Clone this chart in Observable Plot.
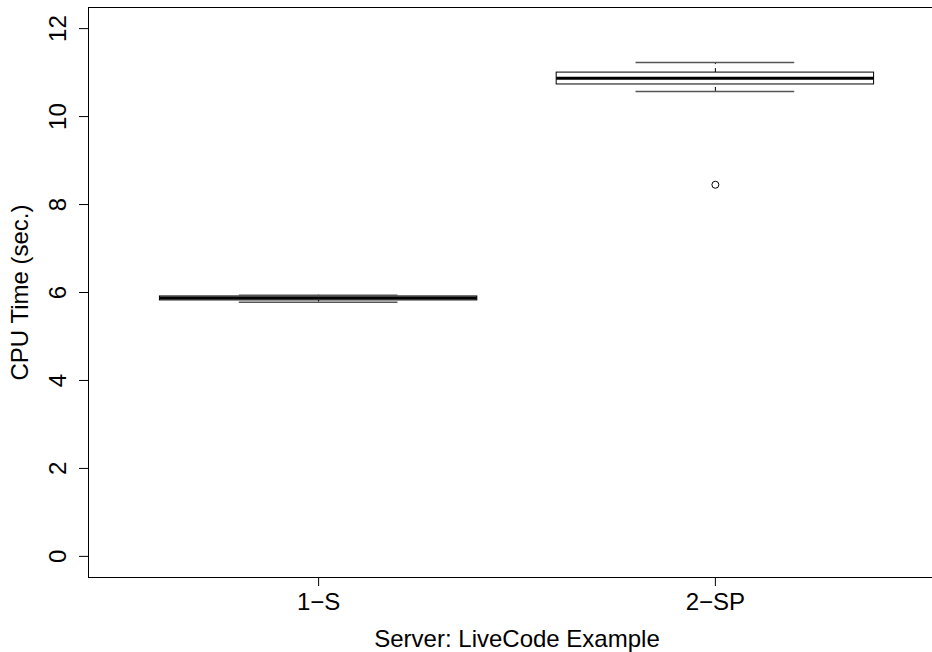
<!DOCTYPE html>
<html>
<head>
<meta charset="utf-8">
<script src="https://cdn.jsdelivr.net/npm/d3@7"></script>
<script src="https://cdn.jsdelivr.net/npm/@observablehq/plot@0.6"></script>
<style>
  html, body { margin: 0; padding: 0; background: white; overflow: hidden; }
</style>
</head>
<body>
<div id="chart"></div>
<script>
// Box-plot summary statistics
const categories   = ["1−S", "2−SP"];
const lowerWhisker = [5.78, 10.57];
const q1           = [5.82, 10.73];
const median       = [5.875, 10.87];
const q3           = [5.91, 11.00];
const upperWhisker = [5.94, 11.23];
const outlierGroup = ["2−SP"];
const outlierValue = [8.45];
const yTicks = [0, 2, 4, 6, 8, 10, 12];
const xTitle = "Server: LiveCode Example";
const yTitle = "CPU Time (sec.)";

const rows = categories.map((c, i) => ({
  cat: c, pos: i + 1,
  lo: lowerWhisker[i], q1: q1[i], med: median[i], q3: q3[i], hi: upperWhisker[i]
}));
const outliers = outlierGroup.map((c, i) => ({
  pos: categories.indexOf(c) + 1, value: outlierValue[i]
}));

const boxHalf = 0.4, capHalf = 0.2;
const font = "'Liberation Sans', Arial, Helvetica, sans-serif";
const fs = 24;

const chart = Plot.plot({
  width: 932,
  height: 652,
  marginLeft: 88,
  marginRight: -13,
  marginTop: 7,
  marginBottom: 75,
  style: { fontFamily: font, fontSize: fs + "px", color: "black", background: "white" },
  x: { type: "linear", domain: [0.42, 2.58] },
  y: { domain: [-0.48, 12.48] },
  marks: [
    // box bodies
    Plot.rect(rows, {
      x1: d => d.pos - boxHalf, x2: d => d.pos + boxHalf,
      y1: "q1", y2: "q3", fill: "white", stroke: "black", strokeWidth: 1
    }),
    // whiskers (dashed, as in R)
    Plot.ruleX(rows, { x: "pos", y1: "q3", y2: "hi", stroke: "black", strokeDasharray: "4,4" }),
    Plot.ruleX(rows, { x: "pos", y1: "lo", y2: "q1", stroke: "black", strokeDasharray: "4,4" }),
    // staples
    Plot.ruleY(rows, { y: "hi", x1: d => d.pos - capHalf, x2: d => d.pos + capHalf, stroke: "#555", strokeWidth: 1.5 }),
    Plot.ruleY(rows, { y: "lo", x1: d => d.pos - capHalf, x2: d => d.pos + capHalf, stroke: "#555", strokeWidth: 1.5 }),
    // medians
    Plot.ruleY(rows, { y: "med", x1: d => d.pos - boxHalf, x2: d => d.pos + boxHalf, stroke: "black", strokeWidth: 3 }),
    // outliers
    Plot.dot(outliers, { x: "pos", y: "value", r: 3.5, stroke: "black", fill: "none", strokeWidth: 1 }),
    // frame
    Plot.frame({ stroke: "black", strokeWidth: 1 }),
    // y axis ticks
    Plot.axisY({ ticks: yTicks, tickSize: 9, tickFormat: () => "", label: null, stroke: "black" }),
    // y tick labels (rotated like R's las = 0)
    Plot.text(yTicks, {
      y: d => d, text: d => String(d), frameAnchor: "left", dx: -23,
      rotate: -90, lineAnchor: "bottom", textAnchor: "middle",
      fontSize: fs, fill: "black"
    }),
    // x axis
    Plot.axisX({
      ticks: [1, 2], tickSize: 9, tickPadding: 6,
      tickFormat: d => categories[d - 1], label: null,
      fontSize: fs, stroke: "black", fill: "black"
    }),
    // axis titles
    Plot.text([xTitle], { frameAnchor: "bottom", dy: 69, lineAnchor: "bottom", textAnchor: "middle", fontSize: fs, fill: "black" }),
    Plot.text([yTitle], { frameAnchor: "left", dx: -61, rotate: -90, lineAnchor: "bottom", textAnchor: "middle", fontSize: fs, fill: "black" })
  ]
});

document.getElementById("chart").appendChild(chart);
</script>
</body>
</html>
